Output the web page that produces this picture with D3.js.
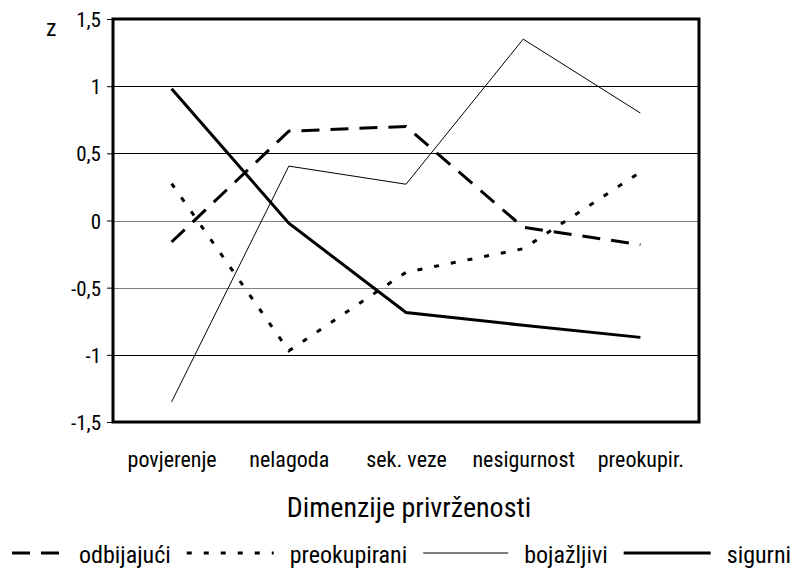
<!DOCTYPE html>
<html>
<head>
<meta charset="utf-8">
<script src="https://cdn.jsdelivr.net/npm/d3@7"></script>
<style>
  html, body { margin: 0; padding: 0; background: #fff; }
  svg { display: block; }
  svg text { font-family: "Roboto Condensed", "Liberation Sans", Arial, sans-serif; fill: #000; }
</style>
</head>
<body>
<svg id="chart" width="796" height="570"></svg>
<script>
// ---- data ----
const categories = ["povjerenje", "nelagoda", "sek. veze", "nesigurnost", "preokupir."];
const odbijajuci   = [-0.16, 0.665, 0.70, -0.05, -0.18];
const preokupirani = [0.275, -0.97, -0.385, -0.21, 0.36];
const bojazljivi   = [-1.35, 0.405, 0.27, 1.35, 0.80];
const sigurni      = [0.98, -0.02, -0.685, -0.78, -0.87];
const seriesNames  = ["odbijajući", "preokupirani", "bojažljivi", "sigurni"];
const yTicks       = [1.5, 1, 0.5, 0, -0.5, -1, -1.5];
const yTickLabels  = ["1,5", "1", "0,5", "0", "-0,5", "-1", "-1,5"];
const xTitle = "Dimenzije privrženosti";
const yTitle = "z";

// ---- layout ----
const L = 113, R = 699, T = 19, B = 422;
const svg = d3.select("#chart");

const x = d3.scalePoint().domain(categories).range([L, R]).padding(0.5);
const y = d3.scaleLinear().domain([-1.5, 1.5]).range([B, T]);

const styles = [
  { width: 3, dash: "18,11" },
  { width: 3, dash: "5,12" },
  { width: 1, dash: null },
  { width: 3, dash: null }
];
const seriesValues = [odbijajuci, preokupirani, bojazljivi, sigurni];

// gridlines
const gridColor = v => (v === 0 || v === -0.5) ? "#808080" : "#000";
svg.append("g").selectAll("line")
  .data(yTicks.filter(v => v !== 1.5 && v !== -1.5))
  .join("line")
  .attr("x1", L).attr("x2", R)
  .attr("y1", d => Math.round(y(d)) + 0.5).attr("y2", d => Math.round(y(d)) + 0.5)
  .attr("stroke", gridColor).attr("stroke-width", 1);

// y axis ticks and labels
const yAxis = d3.axisLeft(y).tickValues(yTicks)
  .tickFormat((d, i) => yTickLabels[i]).tickSize(6).tickPadding(6);
const gy = svg.append("g").attr("transform", `translate(${L},0)`).call(yAxis);
gy.attr("font-family", null).attr("font-size", null);
gy.select(".domain").remove();
gy.selectAll(".tick line").attr("stroke", "#000");
gy.selectAll(".tick text").attr("font-size", 21).attr("dy", "0.36em");

// lines
const line = d3.line().x((d, i) => x(categories[i])).y(d => y(d));
seriesValues.forEach((vals, k) => {
  svg.append("path")
    .datum(vals)
    .attr("d", line)
    .attr("fill", "none")
    .attr("stroke", "#000")
    .attr("stroke-width", styles[k].width)
    .attr("stroke-dasharray", styles[k].dash)
    .attr("stroke-linejoin", "miter");
});

// frame
svg.append("rect")
  .attr("x", L).attr("y", T).attr("width", R - L).attr("height", B - T)
  .attr("fill", "none").attr("stroke", "#000").attr("stroke-width", 3);

// x category labels
const xAxis = d3.axisBottom(x).tickSize(0).tickPadding(0);
const gx = svg.append("g").attr("transform", `translate(0,${B})`).call(xAxis);
gx.attr("font-family", null).attr("font-size", null);
gx.select(".domain").remove();
gx.selectAll(".tick text").attr("font-size", 22).attr("y", 45).attr("dy", 0);

// axis titles
svg.append("text").attr("x", (L + R) / 2 + 3).attr("y", 517)
  .attr("text-anchor", "middle").attr("font-size", 28).text(xTitle);
svg.append("text").attr("x", 46).attr("y", 36)
  .attr("font-size", 24).text(yTitle);

// legend
const legendY = 553;
const sampleW = [51, 87, 85, 87];
let lx = 12;
seriesNames.forEach((name, k) => {
  svg.append("line")
    .attr("x1", lx).attr("x2", lx + sampleW[k])
    .attr("y1", legendY).attr("y2", legendY)
    .attr("stroke", "#000")
    .attr("stroke-width", styles[k].width)
    .attr("stroke-dasharray", styles[k].dash);
  lx += sampleW[k] + 16;
  const t = svg.append("text").attr("x", lx).attr("y", 563)
    .attr("font-size", 24).text(name);
  lx += t.node().getComputedTextLength() + 16;
});
</script>
</body>
</html>
